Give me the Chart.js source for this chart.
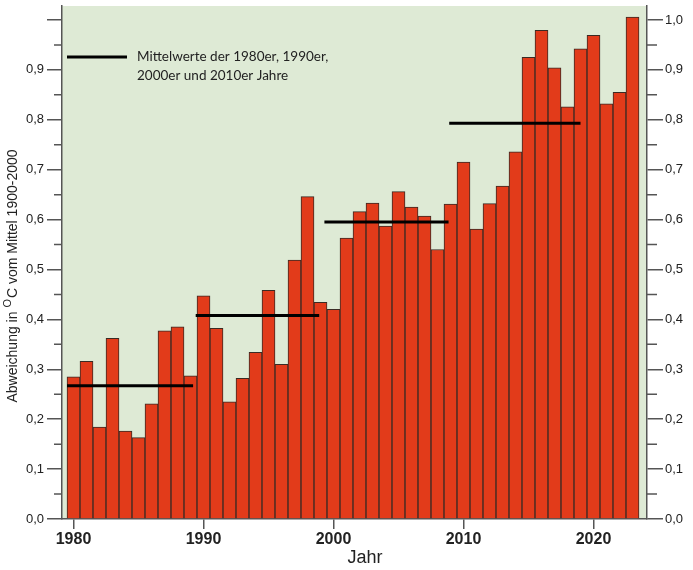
<!DOCTYPE html>
<html lang="de">
<head>
<meta charset="utf-8">
<title>Abweichung der Jahresmitteltemperatur</title>
<script src="https://cdn.jsdelivr.net/npm/chart.js@4.4.1/dist/chart.umd.min.js"></script>
<style>
  html, body { margin: 0; padding: 0; background: #fff; }
  #wrap { width: 693px; height: 570px; }
</style>
</head>
<body>
<div id="wrap"><canvas id="chart" width="693" height="570"></canvas></div>
<script>
// data
const years = [1980, 1981, 1982, 1983, 1984, 1985, 1986, 1987, 1988, 1989,
  1990, 1991, 1992, 1993, 1994, 1995, 1996, 1997, 1998, 1999,
  2000, 2001, 2002, 2003, 2004, 2005, 2006, 2007, 2008, 2009,
  2010, 2011, 2012, 2013, 2014, 2015, 2016, 2017, 2018, 2019,
  2020, 2021, 2022, 2023];
const anomalies = [0.285, 0.316, 0.184, 0.362, 0.176, 0.163, 0.231, 0.377, 0.385, 0.287,
  0.447, 0.382, 0.235, 0.282, 0.334, 0.458, 0.310, 0.519, 0.646, 0.434,
  0.420, 0.563, 0.616, 0.633, 0.587, 0.656, 0.625, 0.607, 0.540, 0.631,
  0.715, 0.581, 0.632, 0.667, 0.736, 0.925, 0.979, 0.904, 0.826, 0.942,
  0.969, 0.832, 0.855, 1.006];

// decade means (1980er, 1990er, 2000er, 2010er) and where each line starts/ends
const decadeMeans = [0.267, 0.408, 0.595, 0.793];
const decadeFrom = [1979.5, 1989.4, 1999.3, 2008.9];
const decadeTo = [1989.2, 1998.9, 2008.85, 2019.0];

const xTicks = [1980, 1990, 2000, 2010, 2020];
const xLabels = ['1980', '1990', '2000', '2010', '2020'];
const yTicks = [0, 0.1, 0.2, 0.3, 0.4, 0.5, 0.6, 0.7, 0.8, 0.9, 1.0];
const yLabelsLeft = ['0,0', '0,1', '0,2', '0,3', '0,4', '0,5', '0,6', '0,7', '0,8', '0,9', ''];
const yLabelsRight = ['0,0', '0,1', '0,2', '0,3', '0,4', '0,5', '0,6', '0,7', '0,8', '0,9', '1,0'];
const yMinor = [0.05, 0.15, 0.25, 0.35, 0.45, 0.55, 0.65, 0.75, 0.85, 0.95];

const legendText = ['Mittelwerte der 1980er, 1990er,', '2000er und 2010er Jahre'];
const yTitle = ['Abweichung in ', 'O', 'C vom Mittel 1900-2000'];
const xTitle = 'Jahr';

(function () {
  'use strict';

  const GREEN = '#deead5';
  const BAR = '#e23b1a';
  const BAR_EDGE = '#3a2b24';
  const AXIS = '#555';
  const TXT = '#222';
  const ARIAL = '"Liberation Sans", Arial, sans-serif';

  const setTicks = (vals) => (scale) => { scale.ticks = vals.map((v) => ({ value: v })); };
  const fixSize = (key, size) => (scale) => {
    scale[key] = size;
    scale.paddingTop = scale.paddingBottom = scale.paddingLeft = scale.paddingRight = 0;
  };

  const datasets = [{
    type: 'bar',
    data: years.map((y, i) => ({ x: y, y: anomalies[i] })),
    backgroundColor: BAR, borderColor: BAR_EDGE, borderWidth: 1,
    barPercentage: 1, categoryPercentage: 1, order: 2
  }];
  decadeMeans.forEach((m, i) => {
    datasets.push({
      type: 'line',
      data: [{ x: decadeFrom[i], y: m }, { x: decadeTo[i], y: m }],
      borderColor: '#000', borderWidth: 3, pointRadius: 0, fill: false, order: 1
    });
  });

  // green plot area
  const background = {
    id: 'background',
    beforeDraw(chart) {
      const a = chart.chartArea, ctx = chart.ctx;
      ctx.save();
      ctx.fillStyle = GREEN;
      ctx.fillRect(a.left, a.top, a.right - a.left, a.bottom - a.top);
      ctx.restore();
    }
  };

  // minor ticks, axis titles, legend
  const extras = {
    id: 'extras',
    afterDraw(chart) {
      const ctx = chart.ctx, a = chart.chartArea;
      const yl = chart.scales.y;
      ctx.save();
      ctx.strokeStyle = AXIS;
      ctx.lineWidth = 1.5;
      yMinor.forEach((v) => {
        const py = yl.getPixelForValue(v);
        ctx.beginPath();
        ctx.moveTo(a.left - 8, py); ctx.lineTo(a.left, py);
        ctx.moveTo(a.right, py); ctx.lineTo(a.right + 10, py);
        ctx.stroke();
      });

      // x title, a bit right of the axis middle as in the original
      ctx.fillStyle = TXT;
      ctx.font = '18px ' + ARIAL;
      ctx.textAlign = 'center';
      ctx.textBaseline = 'middle';
      ctx.fillText(xTitle, 365, 558);

      // rotated y title with raised "O"
      const big = '14px ' + ARIAL;
      const small = '11px ' + ARIAL;
      ctx.font = big;
      const w0 = ctx.measureText(yTitle[0]).width;
      const w2 = ctx.measureText(yTitle[2]).width;
      ctx.font = small;
      const w1 = ctx.measureText(yTitle[1]).width + 1;
      const total = w0 + w1 + w2;
      ctx.translate(13, 276);
      ctx.rotate(-Math.PI / 2);
      let x = -total / 2;
      ctx.textAlign = 'left';
      ctx.font = big; ctx.fillText(yTitle[0], x, 0); x += w0;
      ctx.font = small; ctx.fillText(yTitle[1], x, -5); x += w1;
      ctx.font = big; ctx.fillText(yTitle[2], x, 0);
      ctx.restore();

      // legend
      ctx.save();
      ctx.strokeStyle = '#000';
      ctx.lineWidth = 3;
      ctx.beginPath();
      ctx.moveTo(67, 57); ctx.lineTo(127, 57);
      ctx.stroke();
      ctx.fillStyle = TXT;
      ctx.font = '13.5px Lato, "Open Sans", sans-serif';
      ctx.textAlign = 'left';
      ctx.textBaseline = 'middle';
      ctx.fillText(legendText[0], 137, 57);
      ctx.fillText(legendText[1], 137, 76);
      ctx.restore();
    }
  };

  new Chart(document.getElementById('chart').getContext('2d'), {
    data: { datasets: datasets },
    plugins: [background, extras],
    options: {
      responsive: false,
      animation: false,
      layout: { padding: { top: 6, left: 0, right: 0, bottom: 0 } },
      plugins: { legend: { display: false }, tooltip: { enabled: false } },
      scales: {
        x: {
          type: 'linear', min: 1979.115, max: 2024.115, offset: false,
          afterBuildTicks: setTicks(xTicks),
          afterFit: fixSize('height', 51),
          border: { display: true, color: AXIS, width: 1.5 },
          grid: { offset: false, drawOnChartArea: false, drawTicks: true, tickLength: 10, color: AXIS, lineWidth: 1.5 },
          ticks: {
            padding: 1, color: TXT, maxRotation: 0,
            font: { family: ARIAL, size: 16, weight: 'bold' },
            callback: (v, i) => xLabels[i]
          }
        },
        y: {
          position: 'left', min: 0, max: 1.028,
          afterBuildTicks: setTicks(yTicks),
          afterFit: fixSize('width', 62),
          border: { display: true, color: AXIS, width: 1.5 },
          grid: { drawOnChartArea: false, drawTicks: true, tickLength: 15, color: AXIS, lineWidth: 1.5 },
          ticks: {
            padding: 3, color: TXT,
            font: { family: ARIAL, size: 13 },
            callback: (v, i) => yLabelsLeft[i]
          }
        },
        y2: {
          position: 'right', min: 0, max: 1.028,
          afterBuildTicks: setTicks(yTicks),
          afterFit: fixSize('width', 46),
          border: { display: true, color: AXIS, width: 1.5 },
          grid: { drawOnChartArea: false, drawTicks: true, tickLength: 16, color: AXIS, lineWidth: 1.5 },
          ticks: {
            padding: 2, color: TXT,
            font: { family: ARIAL, size: 13 },
            callback: (v, i) => yLabelsRight[i]
          }
        }
      }
    }
  });
})();
</script>
</body>
</html>
